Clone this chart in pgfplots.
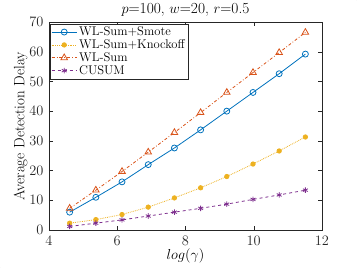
\documentclass[border=0pt]{standalone}
\usepackage{pgfplots}
\pgfplotsset{compat=1.18}
\definecolor{mblue}{rgb}{0,0.447,0.741}
\definecolor{myellow}{rgb}{0.929,0.694,0.125}
\definecolor{morange}{rgb}{0.85,0.325,0.098}
\definecolor{mpurple}{rgb}{0.494,0.184,0.556}
\definecolor{mgrey}{rgb}{0.15,0.15,0.15}
\begin{document}
\begin{tikzpicture}
\useasboundingbox (-49pt,-38pt) rectangle (308pt,230pt);
\fill[white!98!black] (-49pt,-38pt) rectangle ++(0.6pt,0.6pt);
\fill[white!98!black] (308pt,230pt) rectangle ++(-0.6pt,-0.6pt);
\begin{axis}[name=ax, at={(0,0)}, anchor=south west,
  scale only axis, width=273pt, height=208pt,
  xmin=4, xmax=12, ymin=0, ymax=70,
  xtick={4,6,8,10,12}, ytick={0,10,...,70},
  axis line style={mgrey}, tick style={mgrey},
  ticklabel style={font=\fontsize{14}{16}\selectfont, text=mgrey},
  xticklabel style={yshift=-3pt},
  yticklabel style={xshift=-2pt},
  title={$p$=100, $w$=20, $r$=0.5},
  title style={font=\fontsize{15.4}{17}\selectfont, yshift=-4pt},
  xlabel={$log(\gamma)$}, xlabel style={font=\fontsize{15.4}{17}\selectfont, yshift=4pt},
  ylabel={Average Detection Delay}, ylabel style={font=\fontsize{15}{17}\selectfont, yshift=-5pt},
  legend style={font=\fontsize{12.6}{14}\selectfont, draw=mgrey, inner sep=1pt, row sep=-1.5pt, at={(0.004,0.992)}, anchor=north west},
  legend cell align=left,
  legend image code/.code={\draw[mark repeat=2,mark phase=2] plot coordinates {(0cm,0cm)(0.44cm,0cm)(0.88cm,0cm)};},
]
\addplot[mblue, thick, mark=o, mark size=3pt, mark options={solid}] coordinates {
(4.605,6.0)(5.373,11.0)(6.140,16.2)(6.908,22.0)(7.675,27.6)(8.443,33.7)(9.210,40.0)(9.978,46.3)(10.745,52.6)(11.513,59.2)};
\addlegendentry{WL-Sum+Smote}
\addplot[myellow, thick, densely dotted, mark=*, mark size=2.2pt, mark options={solid}] coordinates {
(4.605,2.3)(5.373,3.5)(6.140,5.2)(6.908,7.7)(7.675,10.8)(8.443,14.2)(9.210,18.0)(9.978,22.2)(10.745,26.6)(11.513,31.3)};
\addlegendentry{WL-Sum+Knockoff}
\addplot[morange, thick, dash dot, mark=triangle, mark size=3.8pt, mark options={solid}] coordinates {
(4.605,7.3)(5.373,13.4)(6.140,19.7)(6.908,26.2)(7.675,32.8)(8.443,39.5)(9.210,46.3)(9.978,53.0)(10.745,59.7)(11.513,66.5)};
\addlegendentry{WL-Sum}
\addplot[mpurple, thick, dashed, mark=asterisk, mark size=2.8pt, mark options={solid}] coordinates {
(4.605,1.2)(5.373,2.3)(6.140,3.4)(6.908,4.7)(7.675,6.0)(8.443,7.3)(9.210,8.7)(9.978,10.3)(10.745,11.8)(11.513,13.4)};
\addlegendentry{CUSUM}
\end{axis}
\end{tikzpicture}
\end{document}
